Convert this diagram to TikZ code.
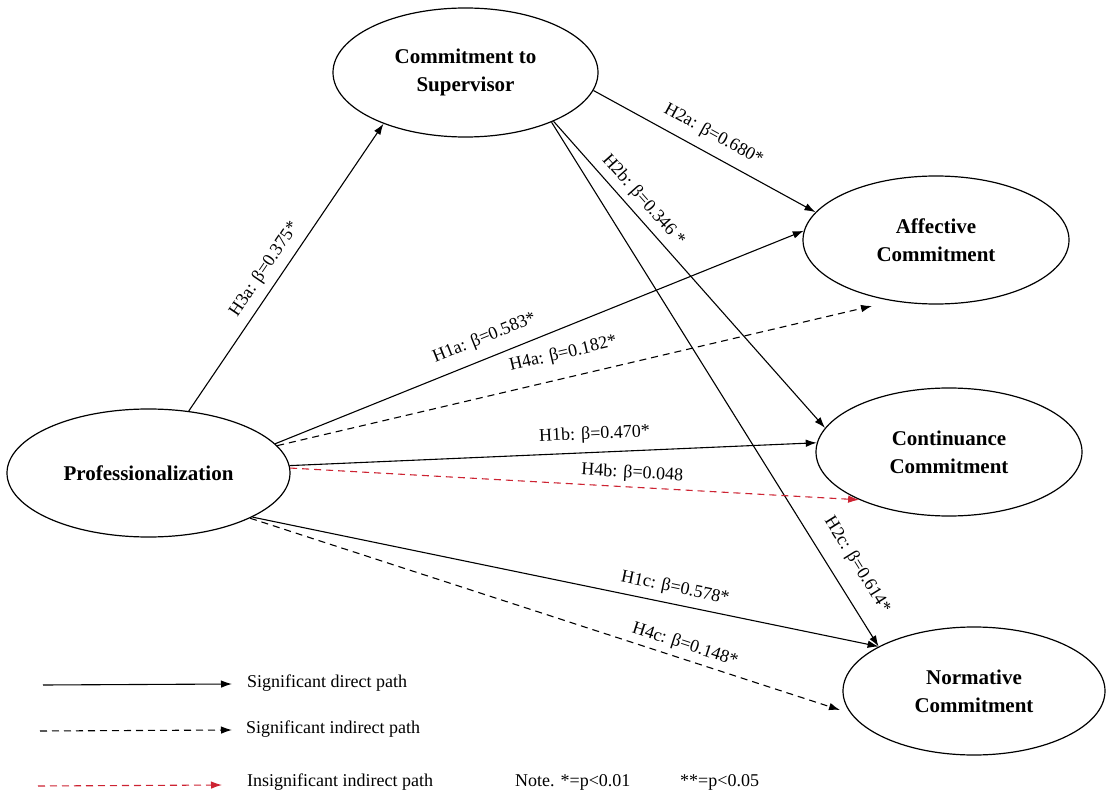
\documentclass[tikz,border=0pt]{standalone}
\usepackage{fontspec}
\setmainfont{Liberation Serif}
\usetikzlibrary{shapes.geometric,arrows.meta}
\definecolor{insig}{RGB}{205,35,50}
\begin{document}
\begin{tikzpicture}[x=1pt,y=-1pt,
  construct/.style={ellipse,draw,line width=1.2pt,inner sep=0pt,align=center,
    font=\fontsize{21}{28}\selectfont\bfseries},
  dirpath/.style={line width=1.1pt,-{Latex[length=11pt,width=7.5pt]}},
  indpath/.style={dirpath,dash pattern=on 7pt off 5pt},
  inspath/.style={indpath,draw=insig},
  lab/.style={font=\fontsize{18}{20}\selectfont,sloped,inner sep=2pt,text=black},
  legtext/.style={font=\fontsize{18}{20}\selectfont,anchor=west,inner sep=0pt}
]
\fill[white] (0,0) rectangle (1106,794);
\useasboundingbox (0,0) rectangle (1106,794);

\node[construct,minimum width=265pt,minimum height=129pt] (cts) at (465.5,72.5) {Commitment to\\Supervisor};
\node[construct,minimum width=266pt,minimum height=128pt] (aff) at (936,240) {Affective\\Commitment};
\node[construct,minimum width=266pt,minimum height=128pt] (cont) at (949,452) {Continuance\\Commitment};
\node[construct,minimum width=262pt,minimum height=128pt] (norm) at (974,691) {Normative\\Commitment};
\node[construct,minimum width=283pt,minimum height=128pt] (prof) at (148.5,473) {Professionalization};

\draw[dirpath] (prof.57.4) -- (cts.212.5) node[lab,above=6pt,pos=0.46] {H3a: β=0.375*};
\draw[dirpath] (cts.-8.6) -- (aff.167.9) node[lab,above=8pt,pos=0.5] {H2a: β=0.680*};
\draw[dirpath] (cts.-29.5) -- (cont.169.8) node[lab,above=4pt,pos=0.29] {H2b: β=0.346 *};
\draw[dirpath] (cts.-30) -- (norm.155.2) node[lab,above=14pt,pos=0.87] {H2c: β=0.614*};
\draw[dirpath] (prof.13.6) -- (aff.176.2) node[lab,above=9pt,pos=0.41] {H1a: β=0.583*};
\coordinate (h4aend) at (872,306);
\draw[indpath] (prof.12.2) -- (h4aend) node[lab,above=13pt,pos=0.49] {H4a: β=0.182*};
\draw[dirpath] (prof.3.7) -- (cont.176.2) node[lab,above=7pt,pos=0.58] {H1b: β=0.470*};
\draw[inspath] (prof.2.4) -- (cont.208.5) node[lab,above=3pt,pos=0.6] {H4b: β=0.048};
\draw[dirpath] (prof.-23) -- (norm.155.2) node[lab,above=5pt,pos=0.67] {H1c: β=0.578*};
\coordinate (h4cend) at (840,710);
\draw[indpath] (prof.-24.2) -- (h4cend) node[lab,above=3pt,pos=0.73] {H4c: β=0.148*};

% legend
\coordinate (l1a) at (43,685); \coordinate (l1b) at (232,684);
\coordinate (l2a) at (40,731); \coordinate (l2b) at (232,730);
\coordinate (l3a) at (38,786); \coordinate (l3b) at (222,785);
\draw[dirpath] (l1a) -- (l1b);
\draw[indpath] (l2a) -- (l2b);
\draw[inspath] (l3a) -- (l3b);
\node[legtext] (t1) at (247,683) {Significant direct path};
\node[legtext] (t2) at (246,729) {Significant indirect path};
\node[legtext] (t3) at (247,782) {Insignificant indirect path};
\node[legtext] (n1) at (515,782) {Note. *=p<0.01};
\node[legtext] (n2) at (680,782) {**=p<0.05};
\end{tikzpicture}
\end{document}
